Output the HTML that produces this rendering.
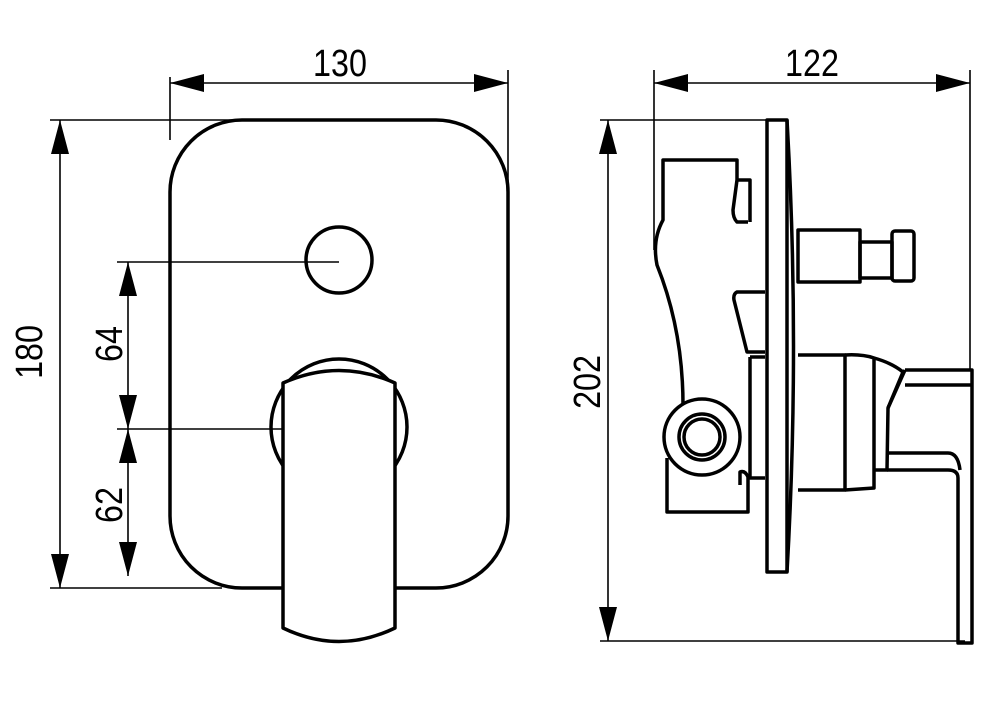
<!DOCTYPE html>
<html><head><style>html,body{margin:0;padding:0;background:#fff}svg{display:block}</style></head><body>
<svg width="1001" height="709" viewBox="0 0 1001 709" xmlns="http://www.w3.org/2000/svg">
<defs>
<marker id="a" viewBox="0 0 34 18" refX="34" refY="9" markerWidth="34" markerHeight="18" markerUnits="userSpaceOnUse" orient="auto-start-reverse"><path d="M34,9 L0,0 L0,18 Z" fill="#000"/></marker>
</defs>
<g stroke="#000" stroke-width="1.6" fill="none">
<line x1="170" y1="77" x2="170" y2="140"/>
<line x1="508" y1="70" x2="508" y2="200"/>
<line x1="170" y1="83" x2="508" y2="83" marker-start="url(#a)" marker-end="url(#a)"/>
<line x1="50" y1="120" x2="240" y2="120"/>
<line x1="50" y1="588" x2="222" y2="588"/>
<line x1="60" y1="120" x2="60" y2="588" marker-start="url(#a)" marker-end="url(#a)"/>
<line x1="117" y1="262" x2="339" y2="262"/>
<line x1="117" y1="429" x2="339" y2="429"/>
<line x1="128" y1="262" x2="128" y2="429" marker-start="url(#a)" marker-end="url(#a)"/>
<line x1="128" y1="429" x2="128" y2="576" marker-start="url(#a)" marker-end="url(#a)"/>
<line x1="654" y1="70" x2="654" y2="250"/>
<line x1="970" y1="70" x2="970" y2="370"/>
<line x1="654" y1="83" x2="970" y2="83" marker-start="url(#a)" marker-end="url(#a)"/>
<line x1="600" y1="120" x2="770" y2="120"/>
<line x1="600" y1="641" x2="965" y2="641"/>
<line x1="608" y1="120" x2="608" y2="641" marker-start="url(#a)" marker-end="url(#a)"/>
</g>
<g font-family="Liberation Sans, sans-serif" font-size="38" fill="#000">
<text x="340" y="76" text-anchor="middle" transform="translate(340 0) scale(0.85 1) translate(-340 0)">130</text>
<text x="812" y="76" text-anchor="middle" transform="translate(812 0) scale(0.85 1) translate(-812 0)">122</text>
<text transform="translate(42 352) rotate(-90) scale(0.85 1)" text-anchor="middle">180</text>
<text transform="translate(122 344) rotate(-90) scale(0.85 1)" text-anchor="middle">64</text>
<text transform="translate(122 505) rotate(-90) scale(0.85 1)" text-anchor="middle">62</text>
<text transform="translate(600 382) rotate(-90) scale(0.85 1)" text-anchor="middle">202</text>
</g>
<g stroke="#000" stroke-width="3.5" fill="none" stroke-linejoin="round">
<rect x="170" y="120" width="338" height="468" rx="72" ry="72"/>
<circle cx="339" cy="260" r="33"/>
<circle cx="339" cy="427" r="68"/>
<path d="M283,383 Q339,358 395,383 L395,628 Q339,655 283,628 Z" fill="#fff"/>
<rect x="767" y="120" width="20" height="452"/>
<path d="M787,120 Q800,346 787,572"/>
<path d="M748,222 L737,222 Q733,218 733,210 L737,180 L737,160 L663,160 L663,220 Q652,240 657,265 Q683,330 683,405"/>
<path d="M737,180 L750,180 L750,222"/>
<path d="M765,292 L737,292 Q733,294 734,300 L747,352 L765,352"/>
<path d="M750,357 L750,478 L765,478"/>
<line x1="765" y1="357" x2="750" y2="357"/>
<circle cx="702" cy="437" r="38"/>
<circle cx="702" cy="437" r="23"/>
<circle cx="702" cy="437" r="18"/>
<path d="M667,458 L667,512 L748,512 L748,477 Q745,470 740,472 L740,485"/>
<rect x="798" y="230" width="62" height="52"/>
<rect x="860" y="242" width="32" height="36"/>
<rect x="892" y="231" width="22" height="50" rx="3"/>
<path d="M798,355 L845,355 L845,490 L798,490"/>
<path d="M845,355 Q862,354 874,358 L874,488 L845,490"/>
<path d="M874,358 Q892,363 903,372 L888,408 L887,470 L874,470"/>
<path d="M905,370 L972,370 L972,643 L958,643 L958,478 Q958,470 948,470 L887,470"/>
<line x1="905" y1="385" x2="972" y2="385"/>
<path d="M887,453 L948,453 Q958,453 960,470"/>
<line x1="905" y1="370" x2="888" y2="408"/>
</g>
</svg>
</body></html>
